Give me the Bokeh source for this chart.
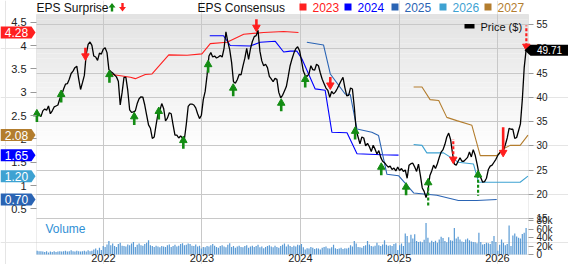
import pandas as pd
from bokeh.plotting import figure
from bokeh.models import (Range1d, LinearAxis, DatetimeAxis, FixedTicker, NumeralTickFormatter,
                          DatetimeTickFormatter, Label, PolyAnnotation, BoxAnnotation, Grid)
from bokeh.embed import file_html
from bokeh.resources import INLINE

# ---------------- data ----------------
# weekly closing price ($), weeks ending on Fridays, first week 2021-04-30
price_first_week = "2021-04-30"
price = [
    37.0, 36.5, 36.0, 37.2, 37.6, 37.3, 38.2, 36.6, 37.2, 38.0,
    38.2, 38.4, 39.7, 40.5, 41.7, 42.7, 42.8, 43.7, 44.9, 45.4,
    46.1, 46.4, 43.8, 41.6, 43.0, 44.5, 48.9, 50.9, 51.4, 50.7,
    48.5, 48.3, 47.6, 49.1, 48.9, 49.9, 50.2, 49.2, 45.7, 45.3,
    45.0, 44.6, 44.2, 43.3, 38.4, 41.0, 44.1, 44.1, 41.4, 37.4,
    36.9, 37.0, 37.2, 38.7, 39.7, 40.1, 40.0, 38.4, 36.3, 34.3,
    33.6, 31.5, 31.8, 34.3, 36.6,
    37.3, 38.7, 37.7, 35.1, 35.7, 36.8, 36.6, 34.3, 32.2, 32.2,
    31.6, 32.0, 31.6, 31.4, 34.4, 38.1, 38.6, 38.6, 38.4, 37.8,
    36.6, 35.6, 36.3, 39.5, 41.2, 44.5, 48.5, 49.2, 48.3, 48.5,
    48.1, 48.3, 48.6, 48.3, 50.1, 53.5, 51.4, 49.8, 47.2, 43.2,
    42.9, 43.6, 44.7, 44.6, 46.4, 48.0, 50.1, 47.8, 50.0, 51.5,
    52.5, 52.7, 53.8, 49.5, 47.5, 46.5, 46.8, 46.1, 44.3, 43.8,
    43.2, 43.9, 43.7, 41.0, 39.9,
    40.4, 41.3, 42.2, 44.3, 46.5, 47.9, 49.1, 50.0, 50.4, 49.6,
    47.6, 45.4, 44.5, 44.3, 44.8, 46.5, 45.7, 45.6, 46.8, 46.5,
    45.0, 43.7, 42.8, 41.9, 41.4, 40.0, 41.2, 40.7, 41.1, 41.8,
    42.6, 43.4, 44.1, 42.0, 40.3, 40.4, 41.9, 41.7, 38.0, 33.2,
    31.8, 30.4, 31.8, 31.6, 30.0, 30.5, 29.8, 28.8, 30.1, 29.3,
    28.3, 29.0, 27.6, 26.8, 26.5, 26.0, 25.6, 25.8, 25.1, 25.4,
    24.8, 25.6, 24.9, 25.3, 24.7, 25.0,
    23.3, 26.0, 26.3, 26.4, 25.6, 24.7, 26.2, 23.9, 21.3, 20.6,
    19.3, 20.6, 23.8, 24.8, 26.0, 25.3, 26.3, 27.6, 28.7, 29.2,
    30.3, 31.8, 32.6, 31.3, 28.5, 26.2, 26.0, 26.8, 27.5, 26.8,
    26.8, 27.2, 27.6, 28.7, 27.7, 29.2, 28.1, 26.3, 24.3, 23.4,
    22.5, 22.6, 23.3, 25.1, 25.8, 26.0, 26.6, 27.2, 28.0, 28.5,
    28.9, 29.0, 30.2, 31.6, 33.6, 33.4, 33.4, 31.5, 31.7, 33.1,
    34.5, 39.5, 46.1, 49.71,
]
# weekly volume (thousands of shares), same weeks
volume_k = [
    9, 8, 8, 7, 6, 8, 5, 7, 6, 8, 6,
    7, 8, 7, 8, 9, 7, 8, 10, 8, 7, 9, 8, 7, 8, 9, 7, 10, 8, 9, 12, 14, 10, 16,
    11, 20, 18, 24, 32, 22, 26, 20, 18, 25, 28, 21, 20, 19, 24, 22, 26,
    30, 18, 23, 26, 22, 21, 25, 28, 34, 22, 20, 18, 21, 19, 17, 20, 19, 18, 22, 24,
    18, 20, 23, 19, 21, 25, 27, 22, 23, 26, 25, 21, 20, 24, 19,
    21, 14, 18, 17, 20, 19, 22, 25, 21, 18, 16, 20, 22, 19, 17, 23, 27, 18, 20, 16,
    19, 21, 18, 17, 20, 22, 16, 19, 21, 18, 20, 23, 17, 19, 15, 18, 20, 22, 19, 17,
    21, 18, 16, 20, 23, 26, 19, 24, 20, 18, 21, 19, 23, 22, 25,
    17, 12, 15, 14, 18, 16, 13, 15, 14, 12, 16, 18, 19, 15, 14, 17, 23, 15, 13, 14,
    16, 13, 15, 14, 16,
    22, 19, 32, 26, 18, 17, 16, 20, 22, 32, 24, 20, 19, 21, 28, 22, 20, 24, 34, 23,
    21, 22, 20, 25, 27, 11,
    22, 26, 20, 50, 44, 28, 47, 38, 48, 32, 30, 31, 29, 35,
    75, 40, 28, 33, 30, 33, 28, 36, 42, 39, 32, 29, 41, 34, 33,
    63, 38, 42, 36, 31, 30, 36, 38, 34, 31, 30, 29, 27, 52, 30, 24, 25, 28, 27, 25,
    32, 44, 30, 9, 23,
    36, 28, 22, 25, 69, 20, 45, 50, 43, 40, 38, 49, 52, 63,
]

# EPS consensus by fiscal year ($)
cons_2023_dates = ["2022-01-21", "2022-04-11", "2022-04-29", "2022-06-05", "2022-06-30",
                   "2022-08-31", "2022-11-07", "2023-01-01", "2023-02-01", "2023-04-04",
                   "2023-06-05", "2023-08-18", "2023-10-31", "2023-12-25"]
cons_2023 = [3.39, 3.32, 3.29, 3.38, 3.39, 3.80, 3.79, 3.82, 4.04, 4.07, 4.24, 4.28, 4.30, 4.28]

cons_2024_dates = ["2023-01-30", "2023-03-22", "2023-04-16", "2023-06-29", "2023-08-05",
                   "2023-09-30", "2023-10-31", "2023-11-25", "2023-12-19", "2024-01-07",
                   "2024-02-25", "2024-04-02", "2024-04-27", "2024-06-22", "2024-07-29",
                   "2024-10-29", "2024-12-30"]
cons_2024 = [4.21, 4.21, 4.00, 3.99, 4.07, 4.09, 3.86, 3.88, 3.88, 3.71, 3.07, 3.04,
             2.14, 2.13, 1.68, 1.66, 1.65]

cons_2025_dates = ["2024-01-25", "2024-03-27", "2024-04-21", "2024-06-15", "2024-07-04",
                   "2024-07-29", "2024-09-22", "2024-10-17", "2024-11-17", "2024-12-30",
                   "2025-02-24", "2025-05-21", "2025-08-09", "2025-10-16", "2025-12-29"]
cons_2025 = [4.07, 4.01, 3.39, 2.96, 2.95, 2.21, 2.14, 2.07, 1.24, 1.21, 0.84, 0.79,
             0.68, 0.68, 0.70]

cons_2026_dates = ["2025-02-24", "2025-03-27", "2025-04-14", "2025-06-15", "2025-08-09",
                   "2025-10-04", "2025-10-23", "2026-03-26", "2026-04-24"]
cons_2026 = [1.88, 1.86, 1.70, 1.70, 1.50, 1.46, 1.07, 1.07, 1.20]

cons_2027_dates = ["2025-02-24", "2025-03-27", "2025-04-26", "2025-05-28", "2025-06-27",
                   "2025-08-03", "2025-09-28", "2025-10-29", "2025-12-29", "2026-01-23",
                   "2026-02-17", "2026-03-26", "2026-04-24"]
cons_2027 = [3.11, 3.11, 2.84, 2.82, 2.46, 2.39, 2.29, 1.64, 1.64, 1.79, 1.86, 1.86, 2.08]

# EPS surprises: date, direction, price at arrow head, price at arrow tail
surprise_dates = ["2021-04-29", "2021-07-28", "2021-10-26", "2022-01-23", "2022-04-25",
                  "2022-07-25", "2022-10-24", "2023-01-24", "2023-04-27", "2023-07-22",
                  "2023-10-22", "2024-01-19", "2024-04-21", "2024-07-22", "2024-10-27",
                  "2025-01-27", "2025-04-19", "2025-07-21", "2025-10-21", "2026-01-22",
                  "2026-04-18"]
surprise_dir = ["up", "up", "down", "up", "up", "up", "up", "up", "up", "down",
                "up", "up", "down", "up", "up", "up", "up", "down", "up", "down", "down"]
surprise_head = [36.6, 40.6, 48.5, 44.7, 36.0, 37.1, 31.1, 46.75, 41.9, 54.4,
                 38.8, 43.7, 42.5, 33.0, 25.6, 21.5, 22.4, 27.2, 24.0, 28.6, 50.5]
surprise_tail = [34.9, 38.9, 50.2, 43.0, 34.3, 35.4, 29.4, 45.05, 40.2, 56.1,
                 37.1, 42.0, 44.2, 31.3, 23.9, 19.8, 17.3, 31.4, 19.7, 33.8, 54.8]

year_ticks = [2022, 2023, 2024, 2025, 2026]
price_ticks = [15, 20, 25, 30, 35, 40, 45, 50, 55]
eps_ticks = [0.5, 1, 1.5, 2, 2.5, 3, 3.5, 4, 4.5]
vol_ticks = [0, 20000, 40000, 60000, 80000]
vol_tick_labels = ["0", "20k", "40k", "60k", "80k"]

# ---------------- styles / layout (canvas pixels) ----------------
W, H = 568, 264
BL, BR, BT, BB = 36, 528, 14, 254           # plot box edges on the canvas
X2022, PX_PER_YEAR = 103, 98.5              # canvas x of 2022-01-01, px per year
Y15, PX_PER_USD = 218, 4.85                 # canvas y of $15, px per $
Y_EPS4, PX_PER_EPS = 45, 46.67              # canvas y of EPS 4, px per EPS $
PX_PER_20K = 8.4
FONT = "Liberation Sans"
GREEN, RED = "#138c13", "#ff1e1e"
C2023, C2024, C2025, C2026, C2027 = "#ff2020", "#0000ff", "#2a64b4", "#3ea2d2", "#b37d2e"
VOLC = "#5b9bd5"
GRIDC = "#c8c8c8"
surprise_dashed = [False] * 16 + [True, True, True, False, True]

T2022 = pd.Timestamp("2022-01-01").value / 1e6
MS_PER_YEAR = 365.25 * 86400000


def x_at(cx):
    return T2022 + (cx - X2022) / PX_PER_YEAR * MS_PER_YEAR


def price_at(cy):
    return 15 + (Y15 - cy) / PX_PER_USD


def eps_at(cy):
    return 4 + (Y_EPS4 - cy) / PX_PER_EPS


def eps_cy(e):
    return Y_EPS4 - (e - 4) * PX_PER_EPS


def vol_at(cy):
    return (BB - cy) / PX_PER_20K * 20000


def sy(cy):          # canvas y -> screen units (from bottom)
    return H - cy


dates = pd.date_range(price_first_week, periods=len(price), freq="W-FRI")
vol = [v * 1000 for v in volume_k]

p = figure(width=W, height=H, x_axis_type="datetime",
           x_axis_location=None, y_axis_location=None,
           x_range=Range1d(x_at(0), x_at(W)), y_range=Range1d(price_at(H), price_at(0)),
           toolbar_location=None, output_backend="svg", min_border=0)
p.extra_y_ranges = {"eps": Range1d(eps_at(H), eps_at(0)), "vol": Range1d(vol_at(H), vol_at(0))}
p.outline_line_color = None
p.background_fill_color = "white"
p.border_fill_color = "white"

# gradient background of the price panel
n_b = 28
g_top, g_bottom = price_at(BT), 29.0
for i in range(n_b):
    t = g_top - (g_top - g_bottom) * i / n_b
    b = g_top - (g_top - g_bottom) * (i + 1) / n_b
    g = int(round(0xe2 + (0xff - 0xe2) * (i + 0.5) / n_b))
    p.add_layout(BoxAnnotation(left=x_at(BL), right=x_at(BR), top=t, bottom=b,
                               fill_color="#%02x%02x%02x" % (g, g, g),
                               fill_alpha=1.0, line_color=None, level="image"))

year_ms = [pd.Timestamp(f"{y}-01-01").value / 1e6 for y in year_ticks]

# grids confined to the plot box
xg = Grid(dimension=0, ticker=FixedTicker(ticks=year_ms), grid_line_color=GRIDC)
yg = Grid(dimension=1, ticker=FixedTicker(ticks=price_ticks), grid_line_color=GRIDC)
if "cross_bounds" in Grid.properties():
    xg.cross_bounds = (price_at(BB), price_at(BT))
    yg.cross_bounds = (x_at(BL), x_at(BR))
p.add_layout(xg)
p.add_layout(yg)

# box outline
p.add_layout(BoxAnnotation(left=x_at(BL), right=x_at(BR), top=price_at(BT), bottom=price_at(BB),
                           fill_alpha=0, line_color="#c4c4c4", line_width=1, level="underlay"))

# x axis
xa = DatetimeAxis(fixed_location=price_at(BB), ticker=FixedTicker(ticks=year_ms),
                  formatter=DatetimeTickFormatter(years="%Y", months="%Y", days="%Y", hours="%Y"))
xa.major_tick_out = 0
xa.major_tick_in = 0
xa.axis_line_color = None
xa.major_label_standoff = -1
xa.major_label_text_font = FONT
xa.major_label_text_font_size = "11px"
xa.major_label_text_color = "#222222"
p.add_layout(xa, "below")

# right axis: price + volume labels
vol_pos = [price_at(BB - v / 20000 * PX_PER_20K) for v in vol_ticks]
ya = LinearAxis(fixed_location=x_at(BR), ticker=FixedTicker(ticks=price_ticks + vol_pos))
ya.major_label_overrides = {pos: lab for pos, lab in zip(vol_pos, vol_tick_labels)}
ya.major_tick_out = 5
ya.major_tick_in = 0
ya.major_tick_line_color = "#999999"
ya.axis_line_color = None
ya.major_label_standoff = 3
ya.major_label_text_font = FONT
ya.major_label_text_font_size = "10px"
ya.major_label_text_color = "#222222"
p.add_layout(ya, "right")

# left axis: EPS
la = LinearAxis(y_range_name="eps", fixed_location=x_at(BL), ticker=FixedTicker(ticks=eps_ticks),
                formatter=NumeralTickFormatter(format="0.[0]"))
la.major_tick_out = 6
la.major_tick_in = 0
la.major_tick_line_color = "#999999"
la.axis_line_color = None
la.major_label_standoff = 4
la.major_label_text_font = FONT
la.major_label_text_font_size = "11px"
la.major_label_text_color = "#222222"
p.add_layout(la, "left")

# volume bars
p.vbar(x=dates, top=vol, bottom=0, width=4.5 * 86400000, y_range_name="vol",
       fill_color=VOLC, line_color=None)

# consensus lines
for d, v, c in [(cons_2023_dates, cons_2023, C2023), (cons_2024_dates, cons_2024, C2024),
                (cons_2025_dates, cons_2025, C2025), (cons_2026_dates, cons_2026, C2026),
                (cons_2027_dates, cons_2027, C2027)]:
    p.line(pd.to_datetime(d), v, y_range_name="eps", line_color=c, line_width=1.1)

# price line
p.line(dates, price, line_color="black", line_width=1.3)

# surprise arrows
sd = pd.to_datetime(surprise_dates)
for dash in (False, True):
    for dr, col in (("up", GREEN), ("down", RED)):
        idx = [i for i in range(len(sd)) if surprise_dir[i] == dr and surprise_dashed[i] == dash]
        if not idx:
            continue
        p.segment(x0=[sd[i] for i in idx], y0=[surprise_head[i] for i in idx],
                  x1=[sd[i] for i in idx], y1=[surprise_tail[i] for i in idx],
                  line_color=col, line_width=2.2 if dash else 2.6,
                  line_dash="3 2" if dash else "solid")
for dr, col, mk in (("up", GREEN, "triangle"), ("down", RED, "inverted_triangle")):
    idx = [i for i in range(len(sd)) if surprise_dir[i] == dr]
    p.scatter([sd[i] for i in idx], [surprise_head[i] for i in idx], marker=mk,
              size=7.5, fill_color=col, line_color=col)

# left EPS badges (placed at the last consensus value, on the EPS scale)
for vals, c in [(cons_2023, C2023), (cons_2027, C2027), (cons_2024, C2024),
                (cons_2026, C2026), (cons_2025, C2025)]:
    v = vals[-1]
    cy = eps_cy(v)
    p.add_layout(PolyAnnotation(xs=[0, 31, 35, 31, 0],
                                ys=[sy(cy - 6), sy(cy - 6), sy(cy), sy(cy + 6), sy(cy + 6)],
                                xs_units="screen", ys_units="screen",
                                fill_color=c, fill_alpha=1.0, line_color=None))
    p.add_layout(Label(x=16, y=sy(cy), x_units="screen", y_units="screen",
                       text=f"{v:.2f}", text_color="white", text_font=FONT,
                       text_font_size="12px", text_align="center", text_baseline="middle"))

# right price badge
lp = price[-1]
hp = 5.5 / PX_PER_USD
p.add_layout(PolyAnnotation(xs=[524, 530, 568, 568, 530],
                            ys=[lp, lp + hp, lp + hp, lp - hp, lp - hp],
                            xs_units="screen", ys_units="data",
                            fill_color="black", fill_alpha=1.0, line_color=None))
p.add_layout(Label(x=549, y=lp, x_units="screen", text=f"{lp:.2f}",
                   text_color="white", text_font=FONT, text_font_size="10px",
                   text_align="center", text_baseline="middle"))


# legends
def add_text(cx, cy, txt, color="#111111", size="12px"):
    p.add_layout(Label(x=cx, y=sy(cy), x_units="screen", y_units="screen", text=txt,
                       text_color=color, text_font=FONT, text_font_size=size,
                       text_align="left", text_baseline="middle"))


def add_poly(xs, ys, color):
    p.add_layout(PolyAnnotation(xs=list(xs), ys=[sy(y) for y in ys],
                                xs_units="screen", ys_units="screen",
                                fill_color=color, fill_alpha=1.0, line_color=None))


add_text(36, 7, "EPS Surprise")
gx = 111.5
add_poly([gx, gx + 3.5, gx + 1.2, gx + 1.2, gx - 1.2, gx - 1.2, gx - 3.5],
         [2.5, 7, 7, 11, 11, 7, 7], GREEN)
rx = 122
add_poly([rx, rx + 3.5, rx + 1.2, rx + 1.2, rx - 1.2, rx - 1.2, rx - 3.5],
         [11, 6.5, 6.5, 2.5, 2.5, 6.5, 6.5], RED)
add_text(197, 7, "EPS Consensus")
for sx, yr, c in [(299, "2023", C2023), (344, "2024", C2024), (391, "2025", C2025),
                  (439, "2026", C2026), (484, "2027", C2027)]:
    add_poly([sx, sx + 7, sx + 7, sx], [3, 3, 10, 10], c)
    add_text(sx + 13, 7, yr, color=c)

add_poly([464, 474, 474, 464], [23.5, 23.5, 28, 28], "black")
add_text(480, 26, "Price ($)", size="11px")
add_text(45, 228.5, "Volume", color="#2f8fd5", size="12px")

open("out.html", "w").write(file_html(p, INLINE))
